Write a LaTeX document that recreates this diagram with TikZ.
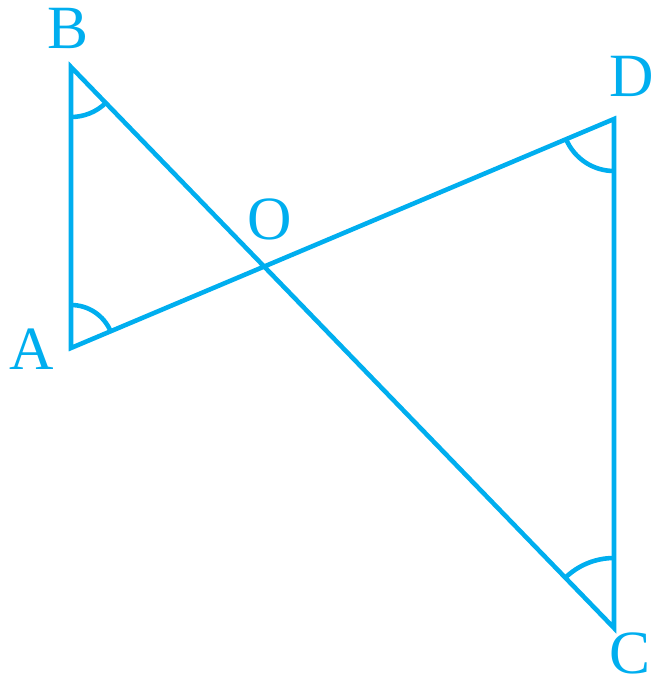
\documentclass[tikz,border=0pt]{standalone}
\usepackage{fontspec}
\setmainfont{Liberation Serif}
\usepackage{xcolor}
\usepackage{tikz}
\usetikzlibrary{calc, angles, intersections}
\definecolor{figblue}{HTML}{00AEEF}
\tikzset{
    edge/.style={figblue, line width=1.3pt, line join=miter},
    vlabel/.style={figblue, font=\fontsize{17.5}{20}\selectfont, inner sep=0pt}
}

\begin{document}
\begin{tikzpicture}
    \useasboundingbox (0,0) rectangle (6.54,-6.84);

    % Vertices
    \coordinate (B) at (0.71,-0.67);
    \coordinate (A) at (0.71,-3.48);
    \coordinate (D) at (6.14,-1.19);
    \coordinate (C) at (6.14,-6.28);
    \coordinate (O) at (intersection of A--D and B--C);

    % Two triangles crossing at O
    \draw[edge] (A) -- (B) -- (C) -- (D) -- cycle;

    % Equal angles
    \draw[edge] pic[draw, angle radius=0.5cm] {angle = A--B--C};
    \draw[edge] pic[draw, angle radius=0.43cm] {angle = D--A--B};
    \draw[edge] pic[draw, angle radius=0.52cm] {angle = A--D--C};
    \draw[edge] pic[draw, angle radius=0.7cm] {angle = D--C--B};

    % Labels
    \node[vlabel] (lB) at (0.68,-0.28) {B};
    \node[vlabel] (lA) at (0.32,-3.49) {A};
    \node[vlabel] (lD) at (6.32,-0.76) {D};
    \node[vlabel] (lC) at (6.30,-6.53) {C};
    \node[vlabel] (lO) at (2.70,-2.19) {O};
\end{tikzpicture}
\end{document}
